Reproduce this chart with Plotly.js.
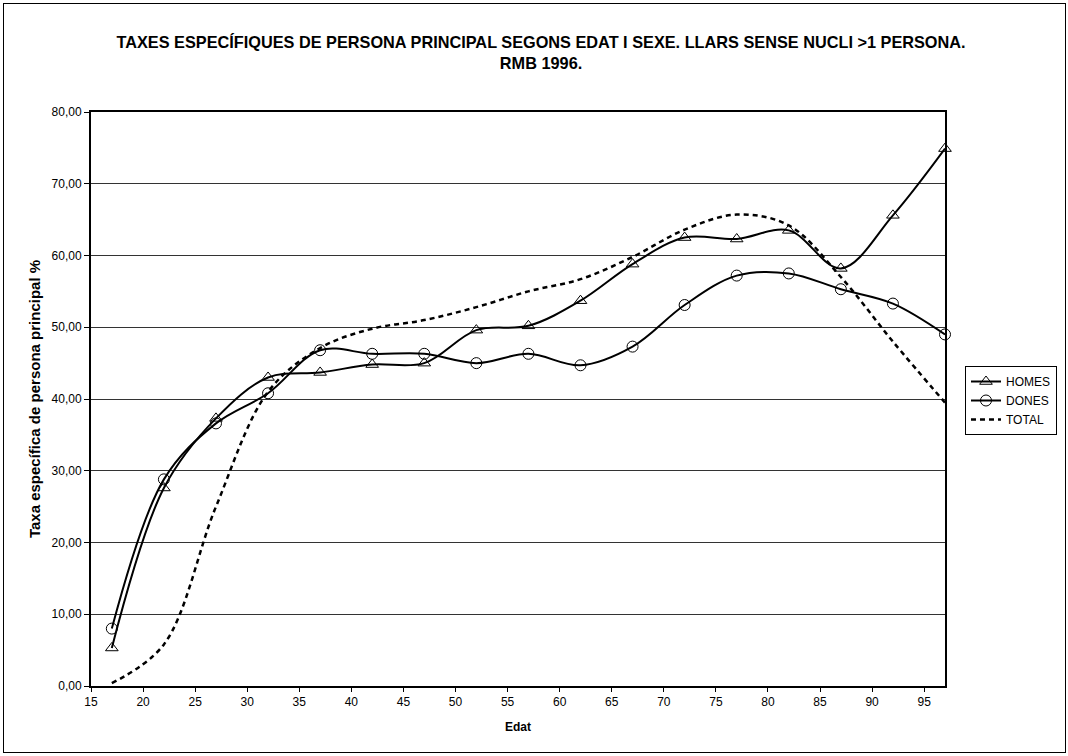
<!DOCTYPE html>
<html>
<head>
<meta charset="utf-8">
<script src="https://cdn.plot.ly/plotly-3.0.1.min.js"></script>
<style>
html,body{margin:0;padding:0;background:#fff;}
#chart{position:absolute;left:0;top:0;width:1068px;height:756px;}
#frame{position:absolute;left:3px;top:3px;width:1061px;height:748px;border:1px solid #000;pointer-events:none;}
</style>
</head>
<body>
<div id="chart"></div>
<div id="frame"></div>
<script>
const ages = [17,22,27,32,37,42,47,52,57,62,67,72,77,82,87,92,97];
const homes = [5.3,27.6,37.3,43.0,43.7,44.8,45.0,49.6,50.2,53.7,58.8,62.5,62.3,63.5,58.2,65.6,74.9];
const dones = [8.0,28.8,36.6,40.8,46.8,46.3,46.3,45.0,46.3,44.7,47.3,53.1,57.2,57.5,55.3,53.3,49.0];
const total = [0.4,5.8,25.0,41.0,47.1,49.8,51.0,52.8,55.0,56.7,59.8,63.6,65.7,64.2,57.0,48.0,39.5];
const seriesNames = ['HOMES','DONES','TOTAL'];
const xTicks = [15,20,25,30,35,40,45,50,55,60,65,70,75,80,85,90,95];
const yTicks = [0,10,20,30,40,50,60,70,80];

const font = 'Liberation Sans, Arial, sans-serif';
const traces = [
  {x: ages, y: homes, name: seriesNames[0], mode: 'lines+markers', type: 'scatter',
   line: {color: '#000', width: 2, shape: 'spline', smoothing: 1},
   marker: {symbol: 'triangle-up-open', size: 11, color: '#000', line: {width: 1, color: '#000'}},
   cliponaxis: false},
  {x: ages, y: dones, name: seriesNames[1], mode: 'lines+markers', type: 'scatter',
   line: {color: '#000', width: 2, shape: 'spline', smoothing: 1},
   marker: {symbol: 'circle-open', size: 11, color: '#000', line: {width: 1, color: '#000'}},
   cliponaxis: false},
  {x: ages, y: total, name: seriesNames[2], mode: 'lines', type: 'scatter',
   line: {color: '#000', width: 2.5, dash: '5px,4px', shape: 'spline', smoothing: 1},
   cliponaxis: false}
];

const layout = {
  width: 1068, height: 756,
  margin: {l: 90.5, r: 122, t: 112, b: 70},
  paper_bgcolor: '#fff', plot_bgcolor: '#fff',
  separators: ',.',
  font: {family: font, color: '#000', size: 12},
  title: {
    text: '<b>TAXES ESPECÍFIQUES DE PERSONA PRINCIPAL SEGONS EDAT I SEXE. LLARS SENSE NUCLI >1 PERSONA.<br>RMB 1996.</b>',
    font: {family: font, size: 16.3, color: '#000'},
    x: 0.5066, xref: 'container', xanchor: 'center',
    y: 1 - 48/756, yref: 'container', yanchor: 'top'
  },
  xaxis: {
    range: [15, 97], tickvals: xTicks, ticktext: xTicks.map(String),
    showline: true, linecolor: '#000', linewidth: 2, mirror: true,
    ticks: 'outside', ticklen: 4, tickcolor: '#000', tickwidth: 1,
    showgrid: false, zeroline: false,
    tickfont: {family: font, size: 12},
    title: {text: '<b>Edat</b>', font: {family: font, size: 12}, standoff: 14}
  },
  yaxis: {
    range: [0, 80], tickvals: yTicks, tickformat: '.2f',
    showline: true, linecolor: '#000', linewidth: 2, mirror: true,
    ticks: 'outside', ticklen: 5, tickcolor: '#000', tickwidth: 1,
    showgrid: true, gridcolor: '#333', gridwidth: 1, zeroline: false,
    tickfont: {family: font, size: 12},
    title: {text: '<b>Taxa específica de persona principal %</b>', font: {family: font, size: 15}, standoff: 7}
  },
  showlegend: true,
  legend: {
    x: (965 - 90.5) / 855.5, xanchor: 'left',
    y: (686 - 366) / 574, yanchor: 'top',
    bordercolor: '#000', borderwidth: 1, bgcolor: '#fff',
    font: {family: font, size: 12, color: '#000'},
    tracegroupgap: 0
  }
};

Plotly.newPlot('chart', traces, layout, {displayModeBar: false, staticPlot: true});
</script>
</body>
</html>
